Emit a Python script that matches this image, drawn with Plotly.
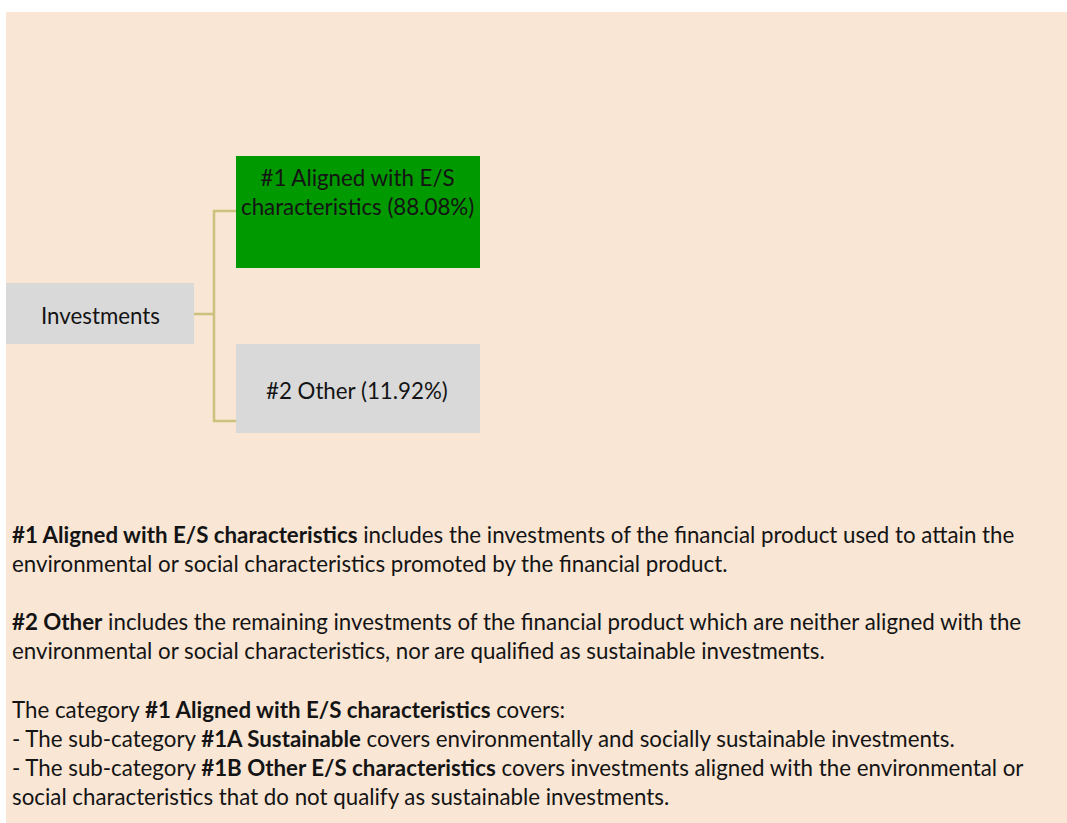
import plotly.graph_objects as go

# ---- data ----
root_label = "Investments"
branch_names = ["#1 Aligned with E/S<br>characteristics", "#2 Other"]
branch_shares = [88.08, 11.92]
branch_colors = ["#009900", "#D9D9D9"]

note_lines = [
    "<b>#1 Aligned with E/S characteristics</b> includes the investments of the financial product used to attain the",
    "environmental or social characteristics promoted by the financial product.",
    "",
    "<b>#2 Other</b> includes the remaining investments of the financial product which are neither aligned with the",
    "environmental or social characteristics, nor are qualified as sustainable investments.",
    "",
    "The category <b>#1 Aligned with E/S characteristics</b> covers:",
    "- The sub-category <b>#1A Sustainable</b> covers environmentally and socially sustainable investments.",
    "- The sub-category <b>#1B Other E/S characteristics</b> covers investments aligned with the environmental or",
    "social characteristics that do not qualify as sustainable investments.",
]

W, H = 1067, 823
FONT = "Lato"
FS = 22.3
BG = "#F9E6D4"
LINE = "#CBC27E"
TXT = "#141414"

fig = go.Figure()

shapes = []
annotations = []

# panel
shapes.append(dict(type="rect", x0=6, x1=W + 5, y0=12, y1=H + 5, fillcolor=BG, line_width=0, layer="below"))

# root box
shapes.append(dict(type="rect", x0=6, x1=194, y0=283, y1=344, fillcolor="#D9D9D9", line_width=0))
annotations.append(dict(x=100, y=315, text=root_label, showarrow=False, xanchor="center", yanchor="middle",
                        font=dict(family=FONT, size=FS, color=TXT)))

# branch boxes
boxes = [(236, 480, 156, 268), (236, 480, 344, 433)]
label_y = [192, 390]
conn_y = [211, 421]
for i, (name, share, col) in enumerate(zip(branch_names, branch_shares, branch_colors)):
    x0, x1, y0, y1 = boxes[i]
    shapes.append(dict(type="rect", x0=x0, x1=x1, y0=y0, y1=y1, fillcolor=col, line_width=0))
    label = f"{name} ({share:.2f}%)"
    annotations.append(dict(x=357, y=label_y[i], text=label, showarrow=False, xanchor="center", yanchor="middle",
                            font=dict(family=FONT, size=FS, color=TXT)))

# connectors
lw = 2.5
shapes.append(dict(type="line", x0=194, x1=214, y0=314, y1=314, line=dict(color=LINE, width=lw)))
shapes.append(dict(type="line", x0=214, x1=214, y0=210, y1=422, line=dict(color=LINE, width=lw)))
for cy in conn_y:
    shapes.append(dict(type="line", x0=213, x1=236, y0=cy, y1=cy, line=dict(color=LINE, width=lw)))

# notes
y = 534
for ln in note_lines:
    if ln:
        annotations.append(dict(x=10, y=y, text=ln, showarrow=False, xanchor="left", yanchor="middle",
                                font=dict(family=FONT, size=FS, color=TXT)))
        y += 29
    else:
        y += 29.5

fig.add_trace(go.Scatter(x=[0, W], y=[0, H], mode="markers", marker=dict(opacity=0),
                         hoverinfo="skip", showlegend=False))

fig.update_layout(
    width=W, height=H,
    margin=dict(l=0, r=0, t=0, b=0),
    paper_bgcolor="white", plot_bgcolor="white",
    xaxis=dict(range=[0, W], visible=False, fixedrange=True),
    yaxis=dict(range=[H, 0], visible=False, fixedrange=True),
    shapes=shapes, annotations=annotations, showlegend=False,
)

fig.write_html("out.html", config=dict(displayModeBar=False),
               post_script="document.body.style.margin='0';document.body.style.overflow='hidden';")
